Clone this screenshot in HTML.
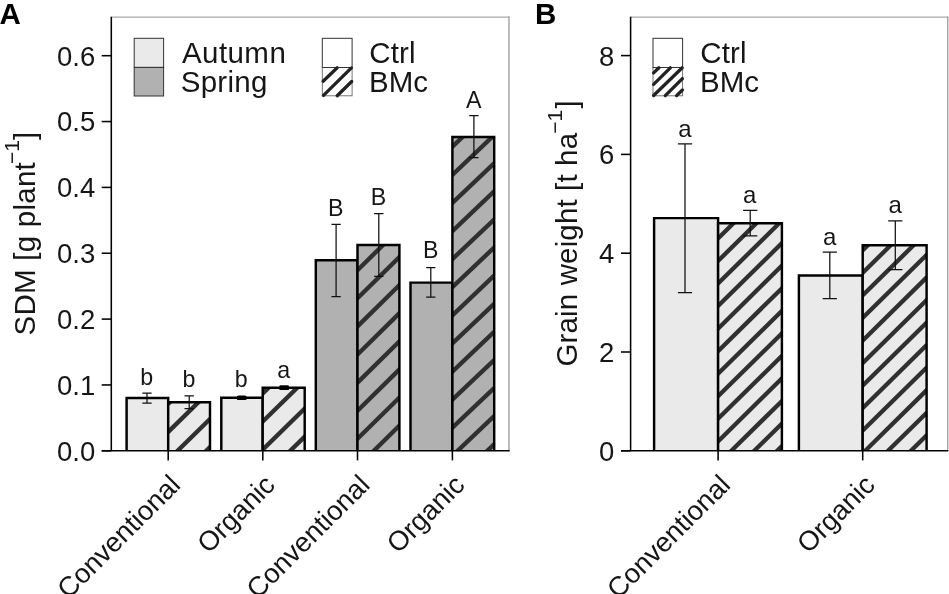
<!DOCTYPE html>
<html><head><meta charset="utf-8"><title>Figure</title>
<style>html,body{margin:0;padding:0;background:#fff;}svg{display:block;will-change:transform;}text{font-family:"Liberation Sans",sans-serif;}</style>
</head><body>
<svg width="949" height="594" viewBox="0 0 949 594">
<rect width="949" height="594" fill="#fff"/>
<path d="M111.3 17.099999999999998H509.2" stroke="#a8a8a8" stroke-width="1.1" fill="none"/><path d="M509.0 16.599999999999998V450.8" stroke="#8c8c8c" stroke-width="1.15" fill="none"/>
<rect x="126.60" y="398.00" width="41.60" height="52.80" fill="#eaeaea"/>
<path d="M126.60 450.80V398.00H168.20V450.80" fill="none" stroke="#000" stroke-width="2.45"/>
<rect x="168.20" y="402.30" width="41.80" height="48.50" fill="#eaeaea"/>
<clipPath id="c1"><rect x="168.20" y="402.30" width="41.80" height="48.50"/></clipPath>
<g clip-path="url(#c1)" stroke="#303030" stroke-width="4.35">
<line x1="163.20" y1="352.50" x2="215.00" y2="301.74"/>
<line x1="163.20" y1="380.60" x2="215.00" y2="329.84"/>
<line x1="163.20" y1="408.70" x2="215.00" y2="357.94"/>
<line x1="163.20" y1="436.80" x2="215.00" y2="386.04"/>
<line x1="163.20" y1="464.90" x2="215.00" y2="414.14"/>
<line x1="163.20" y1="493.00" x2="215.00" y2="442.24"/>
<line x1="163.20" y1="521.10" x2="215.00" y2="470.34"/>
<line x1="163.20" y1="549.20" x2="215.00" y2="498.44"/>
</g>
<path d="M168.20 450.80V402.30H210.00V450.80" fill="none" stroke="#000" stroke-width="2.45"/>
<rect x="221.30" y="397.70" width="41.40" height="53.10" fill="#eaeaea"/>
<path d="M221.30 450.80V397.70H262.70V450.80" fill="none" stroke="#000" stroke-width="2.45"/>
<rect x="262.70" y="387.70" width="42.00" height="63.10" fill="#eaeaea"/>
<clipPath id="c2"><rect x="262.70" y="387.70" width="42.00" height="63.10"/></clipPath>
<g clip-path="url(#c2)" stroke="#303030" stroke-width="4.35">
<line x1="257.70" y1="342.20" x2="309.70" y2="291.24"/>
<line x1="257.70" y1="370.30" x2="309.70" y2="319.34"/>
<line x1="257.70" y1="398.40" x2="309.70" y2="347.44"/>
<line x1="257.70" y1="426.50" x2="309.70" y2="375.54"/>
<line x1="257.70" y1="454.60" x2="309.70" y2="403.64"/>
<line x1="257.70" y1="482.70" x2="309.70" y2="431.74"/>
<line x1="257.70" y1="510.80" x2="309.70" y2="459.84"/>
<line x1="257.70" y1="538.90" x2="309.70" y2="487.94"/>
</g>
<path d="M262.70 450.80V387.70H304.70V450.80" fill="none" stroke="#000" stroke-width="2.45"/>
<rect x="315.80" y="260.30" width="41.70" height="190.50" fill="#b1b1b1"/>
<path d="M315.80 450.80V260.30H357.50V450.80" fill="none" stroke="#000" stroke-width="2.45"/>
<rect x="357.50" y="245.00" width="41.90" height="205.80" fill="#b1b1b1"/>
<clipPath id="c3"><rect x="357.50" y="245.00" width="41.90" height="205.80"/></clipPath>
<g clip-path="url(#c3)" stroke="#303030" stroke-width="4.35">
<line x1="352.50" y1="218.93" x2="404.40" y2="167.80"/>
<line x1="352.50" y1="247.03" x2="404.40" y2="195.90"/>
<line x1="352.50" y1="275.12" x2="404.40" y2="224.00"/>
<line x1="352.50" y1="303.23" x2="404.40" y2="252.10"/>
<line x1="352.50" y1="331.33" x2="404.40" y2="280.20"/>
<line x1="352.50" y1="359.43" x2="404.40" y2="308.30"/>
<line x1="352.50" y1="387.53" x2="404.40" y2="336.40"/>
<line x1="352.50" y1="415.63" x2="404.40" y2="364.50"/>
<line x1="352.50" y1="443.73" x2="404.40" y2="392.60"/>
<line x1="352.50" y1="471.83" x2="404.40" y2="420.70"/>
<line x1="352.50" y1="499.93" x2="404.40" y2="448.80"/>
<line x1="352.50" y1="528.02" x2="404.40" y2="476.90"/>
</g>
<path d="M357.50 450.80V245.00H399.40V450.80" fill="none" stroke="#000" stroke-width="2.45"/>
<rect x="410.50" y="282.60" width="41.90" height="168.20" fill="#b1b1b1"/>
<path d="M410.50 450.80V282.60H452.40V450.80" fill="none" stroke="#000" stroke-width="2.45"/>
<rect x="452.40" y="136.90" width="41.80" height="313.90" fill="#b1b1b1"/>
<clipPath id="c4"><rect x="452.40" y="136.90" width="41.80" height="313.90"/></clipPath>
<g clip-path="url(#c4)" stroke="#303030" stroke-width="4.35">
<line x1="447.40" y1="95.25" x2="499.20" y2="46.04"/>
<line x1="447.40" y1="123.35" x2="499.20" y2="74.14"/>
<line x1="447.40" y1="151.45" x2="499.20" y2="102.24"/>
<line x1="447.40" y1="179.55" x2="499.20" y2="130.34"/>
<line x1="447.40" y1="207.65" x2="499.20" y2="158.44"/>
<line x1="447.40" y1="235.75" x2="499.20" y2="186.54"/>
<line x1="447.40" y1="263.85" x2="499.20" y2="214.64"/>
<line x1="447.40" y1="291.95" x2="499.20" y2="242.74"/>
<line x1="447.40" y1="320.05" x2="499.20" y2="270.84"/>
<line x1="447.40" y1="348.15" x2="499.20" y2="298.94"/>
<line x1="447.40" y1="376.25" x2="499.20" y2="327.04"/>
<line x1="447.40" y1="404.35" x2="499.20" y2="355.14"/>
<line x1="447.40" y1="432.45" x2="499.20" y2="383.24"/>
<line x1="447.40" y1="460.55" x2="499.20" y2="411.34"/>
<line x1="447.40" y1="488.65" x2="499.20" y2="439.44"/>
<line x1="447.40" y1="516.75" x2="499.20" y2="467.54"/>
<line x1="447.40" y1="544.85" x2="499.20" y2="495.64"/>
</g>
<path d="M452.40 450.80V136.90H494.20V450.80" fill="none" stroke="#000" stroke-width="2.45"/>
<path d="M111.3 16.7V450.8M101.7 450.8H509.7" stroke="#000" stroke-width="1.55" fill="none"/>
<path d="M101.7 450.80H111.3" stroke="#000" stroke-width="1.55"/>
<text x="95.30" y="460.70" font-size="27.5" text-anchor="end" fill="#161616" >0.0</text>
<path d="M101.7 384.95H111.3" stroke="#000" stroke-width="1.55"/>
<text x="95.30" y="394.85" font-size="27.5" text-anchor="end" fill="#161616" >0.1</text>
<path d="M101.7 319.10H111.3" stroke="#000" stroke-width="1.55"/>
<text x="95.30" y="329.00" font-size="27.5" text-anchor="end" fill="#161616" >0.2</text>
<path d="M101.7 253.25H111.3" stroke="#000" stroke-width="1.55"/>
<text x="95.30" y="263.15" font-size="27.5" text-anchor="end" fill="#161616" >0.3</text>
<path d="M101.7 187.40H111.3" stroke="#000" stroke-width="1.55"/>
<text x="95.30" y="197.30" font-size="27.5" text-anchor="end" fill="#161616" >0.4</text>
<path d="M101.7 121.55H111.3" stroke="#000" stroke-width="1.55"/>
<text x="95.30" y="131.45" font-size="27.5" text-anchor="end" fill="#161616" >0.5</text>
<path d="M101.7 55.70H111.3" stroke="#000" stroke-width="1.55"/>
<text x="95.30" y="65.60" font-size="27.5" text-anchor="end" fill="#161616" >0.6</text>
<path d="M168.2 450.8V460.40000000000003" stroke="#000" stroke-width="1.55"/>
<path d="M262.8 450.8V460.40000000000003" stroke="#000" stroke-width="1.55"/>
<path d="M357.5 450.8V460.40000000000003" stroke="#000" stroke-width="1.55"/>
<path d="M452.4 450.8V460.40000000000003" stroke="#000" stroke-width="1.55"/>
<path d="M147.00 393.20V403.10M142.35 393.20H151.65M142.35 403.10H151.65" stroke="#111" stroke-width="1.25" fill="none"/>
<path d="M189.20 395.80V408.60M184.55 395.80H193.85M184.55 408.60H193.85" stroke="#111" stroke-width="1.25" fill="none"/>
<path d="M241.70 396.60V399.00M237.05 396.60H246.35M237.05 399.00H246.35" stroke="#111" stroke-width="1.25" fill="none"/>
<path d="M284.20 386.20V389.30M279.55 386.20H288.85M279.55 389.30H288.85" stroke="#111" stroke-width="1.25" fill="none"/>
<path d="M336.10 224.40V296.60M331.45 224.40H340.75M331.45 296.60H340.75" stroke="#111" stroke-width="1.25" fill="none"/>
<path d="M378.80 213.50V276.30M374.15 213.50H383.45M374.15 276.30H383.45" stroke="#111" stroke-width="1.25" fill="none"/>
<path d="M430.80 267.50V297.00M426.15 267.50H435.45M426.15 297.00H435.45" stroke="#111" stroke-width="1.25" fill="none"/>
<path d="M473.90 115.60V157.50M469.25 115.60H478.55M469.25 157.50H478.55" stroke="#111" stroke-width="1.25" fill="none"/>
<rect x="236.89999999999998" y="395.6" width="9.6" height="4.5" rx="1.5" fill="#000"/>
<rect x="279.4" y="385.4" width="9.6" height="4.6" rx="1.5" fill="#000"/>
<text x="146.70" y="385.20" font-size="23.2" text-anchor="middle" fill="#161616" >b</text>
<text x="189.00" y="386.80" font-size="23.2" text-anchor="middle" fill="#161616" >b</text>
<text x="241.30" y="386.60" font-size="23.2" text-anchor="middle" fill="#161616" >b</text>
<text x="283.80" y="377.70" font-size="23.2" text-anchor="middle" fill="#161616" >a</text>
<text x="335.80" y="215.70" font-size="23.2" text-anchor="middle" fill="#161616" >B</text>
<text x="378.40" y="204.50" font-size="23.2" text-anchor="middle" fill="#161616" >B</text>
<text x="430.80" y="258.30" font-size="23.2" text-anchor="middle" fill="#161616" >B</text>
<text x="473.80" y="107.50" font-size="23.2" text-anchor="middle" fill="#161616" >A</text>
<text transform="translate(167.90,472.50) rotate(-45)" font-size="27.5" text-anchor="end" fill="#161616" dy="19.8">Conventional</text>
<text transform="translate(262.50,472.50) rotate(-45)" font-size="27.5" text-anchor="end" fill="#161616" dy="19.8">Organic</text>
<text transform="translate(357.20,472.50) rotate(-45)" font-size="27.5" text-anchor="end" fill="#161616" dy="19.8">Conventional</text>
<text transform="translate(452.10,472.50) rotate(-45)" font-size="27.5" text-anchor="end" fill="#161616" dy="19.8">Organic</text>
<g transform="translate(34.8,334.0) rotate(-90)" fill="#161616"><text x="-1.4" y="0" font-size="29.5" textLength="173.2">SDM [g plant</text><text x="169.9" y="-15.6" font-size="21">−1</text><text x="193.9" y="0" font-size="29.5">]</text></g>
<rect x="134.2" y="38.3" width="29.400000000000006" height="29.10000000000001" fill="#eaeaea" stroke="#333" stroke-width="1"/>
<rect x="134.2" y="67.4" width="29.400000000000006" height="28.599999999999994" fill="#b1b1b1" stroke="#333" stroke-width="1"/>
<text x="181.90" y="63.20" font-size="29.5" text-anchor="start" fill="#161616" textLength="103.9">Autumn</text>
<text x="180.70" y="91.50" font-size="29.5" text-anchor="start" fill="#161616" textLength="86.7">Spring</text>
<rect x="322.3" y="38.3" width="29.80000000000001" height="29.200000000000003" fill="#fff" stroke="#333" stroke-width="1"/>
<rect x="322.3" y="67.5" width="29.80000000000001" height="28.299999999999997" fill="#fff" stroke="#666" stroke-width="0.9"/>
<path d="M322.3 67.5H352.1" stroke="#333" stroke-width="1"/>
<g stroke="#222" stroke-width="3.3" stroke-linecap="round"><line x1="323.1" y1="81.2" x2="337.2" y2="67.8"/><line x1="323.5" y1="95.4" x2="351.4" y2="67.9"/><line x1="337.2" y1="95.7" x2="351.7" y2="81.5"/></g>
<text x="369.30" y="63.00" font-size="29.5" text-anchor="start" fill="#161616" textLength="46.3">Ctrl</text>
<text x="369.00" y="91.50" font-size="29.5" text-anchor="start" fill="#161616" >BMc</text>
<text x="-0.50" y="23.90" font-size="29.5" text-anchor="start" font-weight="bold" fill="#000" >A</text>
<path d="M630.6 17.099999999999998H947.8" stroke="#a8a8a8" stroke-width="1.1" fill="none"/><path d="M947.8 16.599999999999998V450.8" stroke="#8c8c8c" stroke-width="1.15" fill="none"/>
<rect x="654.10" y="218.10" width="64.00" height="232.70" fill="#eaeaea"/>
<path d="M654.10 450.80V218.10H718.10V450.80" fill="none" stroke="#000" stroke-width="2.45"/>
<rect x="718.10" y="223.20" width="63.80" height="227.60" fill="#eaeaea"/>
<clipPath id="c5"><rect x="718.10" y="223.20" width="63.80" height="227.60"/></clipPath>
<g clip-path="url(#c5)" stroke="#303030" stroke-width="4.3">
<line x1="713.10" y1="198.17" x2="786.90" y2="125.48"/>
<line x1="713.10" y1="220.72" x2="786.90" y2="148.03"/>
<line x1="713.10" y1="243.27" x2="786.90" y2="170.58"/>
<line x1="713.10" y1="265.82" x2="786.90" y2="193.13"/>
<line x1="713.10" y1="288.38" x2="786.90" y2="215.68"/>
<line x1="713.10" y1="310.93" x2="786.90" y2="238.23"/>
<line x1="713.10" y1="333.47" x2="786.90" y2="260.78"/>
<line x1="713.10" y1="356.02" x2="786.90" y2="283.33"/>
<line x1="713.10" y1="378.57" x2="786.90" y2="305.88"/>
<line x1="713.10" y1="401.12" x2="786.90" y2="328.43"/>
<line x1="713.10" y1="423.68" x2="786.90" y2="350.98"/>
<line x1="713.10" y1="446.22" x2="786.90" y2="373.53"/>
<line x1="713.10" y1="468.78" x2="786.90" y2="396.08"/>
<line x1="713.10" y1="491.32" x2="786.90" y2="418.63"/>
<line x1="713.10" y1="513.88" x2="786.90" y2="441.18"/>
<line x1="713.10" y1="536.42" x2="786.90" y2="463.73"/>
<line x1="713.10" y1="558.97" x2="786.90" y2="486.28"/>
</g>
<path d="M718.10 450.80V223.20H781.90V450.80" fill="none" stroke="#000" stroke-width="2.45"/>
<rect x="798.90" y="275.40" width="63.80" height="175.40" fill="#eaeaea"/>
<path d="M798.90 450.80V275.40H862.70V450.80" fill="none" stroke="#000" stroke-width="2.45"/>
<rect x="862.70" y="245.30" width="63.90" height="205.50" fill="#eaeaea"/>
<clipPath id="c6"><rect x="862.70" y="245.30" width="63.90" height="205.50"/></clipPath>
<g clip-path="url(#c6)" stroke="#303030" stroke-width="4.3">
<line x1="857.70" y1="210.08" x2="931.60" y2="137.28"/>
<line x1="857.70" y1="232.63" x2="931.60" y2="159.83"/>
<line x1="857.70" y1="255.18" x2="931.60" y2="182.38"/>
<line x1="857.70" y1="277.73" x2="931.60" y2="204.93"/>
<line x1="857.70" y1="300.28" x2="931.60" y2="227.48"/>
<line x1="857.70" y1="322.83" x2="931.60" y2="250.03"/>
<line x1="857.70" y1="345.38" x2="931.60" y2="272.58"/>
<line x1="857.70" y1="367.93" x2="931.60" y2="295.13"/>
<line x1="857.70" y1="390.48" x2="931.60" y2="317.68"/>
<line x1="857.70" y1="413.03" x2="931.60" y2="340.23"/>
<line x1="857.70" y1="435.57" x2="931.60" y2="362.78"/>
<line x1="857.70" y1="458.13" x2="931.60" y2="385.33"/>
<line x1="857.70" y1="480.68" x2="931.60" y2="407.88"/>
<line x1="857.70" y1="503.23" x2="931.60" y2="430.43"/>
<line x1="857.70" y1="525.77" x2="931.60" y2="452.98"/>
<line x1="857.70" y1="548.33" x2="931.60" y2="475.53"/>
</g>
<path d="M862.70 450.80V245.30H926.60V450.80" fill="none" stroke="#000" stroke-width="2.45"/>
<path d="M630.6 16.7V450.8M621.0 450.8H948.3" stroke="#000" stroke-width="1.55" fill="none"/>
<path d="M621.0 450.80H630.6" stroke="#000" stroke-width="1.55"/>
<text x="614.30" y="460.70" font-size="27.5" text-anchor="end" fill="#161616" >0</text>
<path d="M621.0 352.00H630.6" stroke="#000" stroke-width="1.55"/>
<text x="614.30" y="361.90" font-size="27.5" text-anchor="end" fill="#161616" >2</text>
<path d="M621.0 253.20H630.6" stroke="#000" stroke-width="1.55"/>
<text x="614.30" y="263.10" font-size="27.5" text-anchor="end" fill="#161616" >4</text>
<path d="M621.0 154.40H630.6" stroke="#000" stroke-width="1.55"/>
<text x="614.30" y="164.30" font-size="27.5" text-anchor="end" fill="#161616" >6</text>
<path d="M621.0 55.60H630.6" stroke="#000" stroke-width="1.55"/>
<text x="614.30" y="65.50" font-size="27.5" text-anchor="end" fill="#161616" >8</text>
<path d="M718.1 450.8V460.40000000000003" stroke="#000" stroke-width="1.55"/>
<path d="M862.7 450.8V460.40000000000003" stroke="#000" stroke-width="1.55"/>
<path d="M685.00 143.80V292.50M677.90 143.80H692.10M677.90 292.50H692.10" stroke="#111" stroke-width="1.25" fill="none"/>
<path d="M750.20 210.30V235.80M743.10 210.30H757.30M743.10 235.80H757.30" stroke="#111" stroke-width="1.25" fill="none"/>
<path d="M829.80 252.10V298.50M822.70 252.10H836.90M822.70 298.50H836.90" stroke="#111" stroke-width="1.25" fill="none"/>
<path d="M895.30 220.80V269.50M888.20 220.80H902.40M888.20 269.50H902.40" stroke="#111" stroke-width="1.25" fill="none"/>
<text x="685.00" y="136.50" font-size="24" text-anchor="middle" fill="#161616" >a</text>
<text x="749.80" y="203.40" font-size="24" text-anchor="middle" fill="#161616" >a</text>
<text x="829.60" y="245.00" font-size="24" text-anchor="middle" fill="#161616" >a</text>
<text x="895.30" y="213.30" font-size="24" text-anchor="middle" fill="#161616" >a</text>
<text transform="translate(717.80,472.50) rotate(-45)" font-size="27.5" text-anchor="end" fill="#161616" dy="19.8">Conventional</text>
<text transform="translate(862.40,472.50) rotate(-45)" font-size="27.5" text-anchor="end" fill="#161616" dy="19.8">Organic</text>
<g transform="translate(577.3,365.0) rotate(-90)" fill="#161616"><text x="-1.5" y="0" font-size="29.5" textLength="233.6">Grain weight [t ha</text><text x="231.2" y="-15.6" font-size="21">−1</text><text x="256.5" y="0" font-size="29.5">]</text></g>
<rect x="653.0" y="38.3" width="29.600000000000023" height="29.200000000000003" fill="#fff" stroke="#333" stroke-width="1"/>
<rect x="653.0" y="67.5" width="29.600000000000023" height="28.299999999999997" fill="#fff" stroke="#666" stroke-width="0.9"/>
<path d="M653.0 67.5H682.6" stroke="#333" stroke-width="1"/>
<g stroke="#222" stroke-width="3.3" stroke-linecap="round"><line x1="653.6" y1="72.9" x2="658.9" y2="67.8"/><line x1="653.6" y1="84.3" x2="670.3" y2="67.8"/><line x1="653.6" y1="95.5" x2="682.2" y2="67.8"/><line x1="665.3" y1="95.6" x2="682.4" y2="78.6"/><line x1="676.6" y1="95.6" x2="682.4" y2="90.0"/></g>
<text x="700.30" y="63.00" font-size="29.5" text-anchor="start" fill="#161616" textLength="46.3">Ctrl</text>
<text x="700.00" y="91.50" font-size="29.5" text-anchor="start" fill="#161616" >BMc</text>
<text x="535.00" y="24.20" font-size="29.5" text-anchor="start" font-weight="bold" fill="#000" >B</text>
</svg></body></html>
